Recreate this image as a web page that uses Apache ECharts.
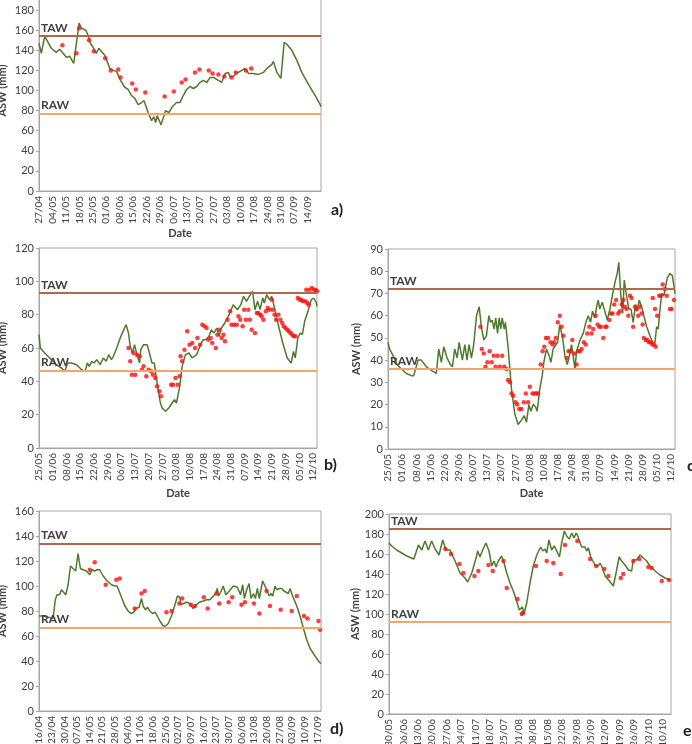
<!DOCTYPE html>
<html>
<head>
<meta charset="utf-8">
<script src="https://cdn.jsdelivr.net/npm/echarts@6/dist/echarts.min.js"></script>
<style>html,body{margin:0;background:#fff}#chart{width:692px;height:744px}</style>
</head>
<body>
<div id="chart"></div>
<script>
// x values are days since the first tick label of each panel

// ---- panel a) ----
var aTicks = ['27/04','04/05','11/05','18/05','25/05','01/06','08/06','15/06','22/06','29/06','06/07','13/07','20/07','27/07','03/08','10/08','17/08','24/08','31/08','07/09','14/09'];
var aLineDay = [0,1.2,3,3.8,6.4,9,10.8,14.3,16,18.1,20.9,22.1,24.4,25.6,26.8,28.2,29.9,31.2,32.9,34.3,36.9,38.7,40.4,42.5,44.8,46.5,48.2,50,51.7,53.5,54.7,56.9,58.7,59.9,60.8,61.6,63.6,64.8,66,67.7,69.6,71.7,73.5,75.2,77,78.7,80.4,82.2,83.9,85.7,87.4,89.2,90.9,93.5,95.2,97,98.7,99.6,101.3,103,105.7,107.4,109.2,111.8,114.4,117,118.8,121.4,122.2,124,126.1,127.1,127.8,129.2,131.8,134.4,137,138.7,141.4,144,146.3,147];
var aLineASW = [147,137,154,153,142,138,141,133,134,127,167,162,160,155,147,143,137,142,138,135,122,120,119,110,103,101,95,92,86,88,90,78,70,74,68,75,66,73,80,78,84,88,88,95,101,104,102,104,108,110,108,113,113,110,108,117,118,114,114,117,120,122,117,117,116,118,122,126,129,118,112,112,148,146,140,130,118,112,103,95,87,84];
var aObsDay = [12.2,19.5,20.9,26.1,28.6,34.5,37.4,41.3,42.5,48.6,50.5,55.4,65.5,70.3,74.4,76.4,81.3,83.6,88.5,90.5,93.5,96.6,100.3,102.6,107.8,110.6];
var aObsASW = [145,137,162,150,139,132,120,121,113,107,101,98,94,99,108,111,118,121,120,117,116,114,113,118,120,122];
var aTAW = 154, aRAW = 77;

// ---- panel b) ----
var bTicks = ['25/05','01/06','08/06','15/06','22/06','29/06','06/07','13/07','20/07','27/07','03/08','10/08','17/08','24/08','31/08','07/09','14/09','21/09','28/09','05/10','12/10'];
var bLineDay = [0,0.7,2.9,5.5,8.9,11.5,13.2,14.6,16.6,19.2,21.8,23.5,24.7,25.7,26.9,28.1,29.5,31.2,32.9,34.3,35.6,37,38,39.7,41.8,44.5,45.7,46.6,47.8,48.8,50,51.4,52,53.4,55.2,56.4,57.7,58.9,59.8,60.6,62,62.9,64.6,66.3,68,69.2,70.2,71.9,73.1,74,74.8,76.6,78.3,80.5,82.2,83.8,85.1,86.8,88,89.4,90.8,92,93.2,94.9,95.9,97.1,99.2,101.4,103.1,104.5,106,107.4,109.1,110.3,111.7,112.9,114.3,115.1,116.3,117.7,118.9,119.9,122,124.5,126.8,128.8,130,130.9,132.2,133.4,134.5,135.7,137.4,139.1,140.3,141.7,142];
var bLineASW = [68,60,57,54,50,48,46,51,51,50,47,46,51,49,52,51,53,50,54,52,56,53,55,60,67,74,69,61,57,62,56,51,59,62,62,57,51,51,43,37,27,24,22,24,27,29,27,37,49,50,56,57,54,56,61,65,65,67,71,69,72,67,72,75,74,80,86,83,86,91,88,91,94,83,88,83,90,87,92,89,91,86,75,63,54,51,58,54,66,69,68,76,82,89,90,87,85];
var bObsDay = [45.7,46.6,47.4,49.2,48.2,50,51.4,52.6,53.4,54.8,56,57.2,58.2,59.4,60.3,61.5,62.3,67.5,68.5,69.7,70.9,71.8,72.3,73.1,74.3,75.7,76.9,78.3,79.7,80.9,82.2,83.4,84.6,85.6,86.5,87.7,88.5,90.3,91.1,92.1,93.3,94.2,95,96.3,97.6,98.3,99.7,101,101.9,102.8,104,104.8,105.7,106.9,107.7,108.6,110.3,111.3,112,113,113.7,114.6,115.9,116.8,117.7,118.9,119.4,120.3,121.1,122.3,123.3,124.2,125,125.9,126.8,127.6,128.5,129.3,130.2,131,132.2,133.1,134,134.8,136,137,137.7,136.5,138.2,139.4,140.5,141.3,142];
var bObsASW = [60,52,44,44,57,56,55,47,49,43,47,46,44,42,37,34,31,38,38,42,38,43,55,52,59,70,62,63,60,66,62,74,73,72,65,66,63,60,68,71,66,68,64,77,82,74,74,74,79,77,73,83,77,83,77,71,69,81,81,80,79,77,82,84,83,89,83,80,77,80,77,75,73,72,71,70,69,68,67,67,90,89,89,88,88,87,86,95,95,96,95,95,94];
var bTAW = 93, bRAW = 46.5;

// ---- panel c) ----
var cTicks = bTicks;
var cLineDay = [0,0.8,2.5,4.5,6.6,9.1,11.6,12.7,14.9,16.5,19,22,23.9,25.1,26.4,27.6,29.2,30.9,31.9,33,34.2,35.2,36.8,38,39.1,40.1,41.3,42.4,43.8,45.1,46.2,47.4,48.7,49.9,50.7,51.5,52.5,53.3,54.2,55,55.8,56.5,57.5,58.1,59.4,61.1,62.7,64.4,66,67.4,68.5,69.7,70.7,71.8,73,73.8,75.1,76.3,77.1,78.4,79.7,80.6,81.7,82.6,83.9,85,86.4,87.5,88.7,90,90.8,91.6,92.5,93.3,95,96.6,97.9,99.1,100.2,101.2,102.4,103.2,104,104.8,106,107.3,108.5,109.8,111,112.3,113.4,114.2,115.2,116.1,116.9,118,119.2,120.2,121.3,122.5,123.3,124.3,125.5,126.6,128,129.6,130.9,132.1,132.9,133.7,134.6,135.4,136.5,137.4,138.2,139.5,140.7,141.2,142];
var cLineASW = [48,45,42,38,36,34,33,33,40,40,37,35,34,45,39,46,41,38,37,45,41,48,40,47,40,47,41,47,60,64,55,49,51,60,57,58,54,59,52,59,54,59,54,57,46,27,16,11,13,15,12,20,17,20,19,17,27,33,39,45,42,39,45,45,48,56,50,42,38,43,47,42,36,44,49,52,57,60,57,62,59,64,67,63,66,62,58,63,69,75,79,84,69,61,76,69,63,63,57,65,62,67,64,60,55,51,48,48,55,54,63,70,69,69,77,79,78,75,70];
var cObsDay = [45.7,46.4,47.4,48.2,49.2,50.3,51.3,52.3,53.2,54.2,55.3,56.5,57.5,58.6,59.4,60.3,61.1,61.9,63.1,63.9,64.9,66,67.2,68.2,69.3,70.2,71.5,72.5,73.5,74.3,75.6,76.5,77.3,78.1,79.2,80.4,81.4,82.2,83,84,85,85.9,86.7,88.4,89.3,90.3,91.2,92.1,93.3,94.1,95,95.8,96.9,97.8,98.6,99.6,100.7,101.5,102.7,103.7,104.5,105.3,106.5,107.5,108.1,109.5,110.3,111.1,111.9,112.9,113.9,114.7,115.6,116.4,117.2,118,118.9,119.7,120.5,121.3,122.2,123,123.8,124.6,125.5,126,126.6,127.5,128.3,129.1,129.9,130.8,131.6,132.4,131,132.1,133.2,134.2,135,135.9,137,137.9,139.5,140.3,141.5];
var cObsASW = [55,45,43,37,39,44,39,42,37,42,37,42,37,36,31,30,25,24,21,20,18,18,21,25,21,28,25,25,25,25,38,44,46,50,50,48,47,48,50,57,60,55,51,41,44,44,49,43,38,44,44,45,48,47,52,55,52,54,60,56,55,55,50,55,55,58,61,61,65,67,61,62,65,67,64,63,60,69,68,55,64,63,60,64,61,56,50,49,49,48,48,47,47,46,68,63,60,69,69,74,72,69,63,63,67];
var cTAW = 72, cRAW = 36;

// ---- panel d) ----
var dTicks = ['16/04','23/04','30/04','07/05','14/05','21/05','28/05','04/06','11/06','18/06','25/06','02/07','09/07','16/07','23/07','30/07','06/08','13/08','20/08','27/08','03/09','10/09','17/09'];
var dLineDay = [0,2.2,5,7.8,8.7,9,10,11.4,12.4,13.3,14.8,16.1,17.4,18.8,20.3,21.6,22.9,24.4,26.2,28.1,29.5,30.8,32.3,33.6,35.5,37.7,40.1,41.9,43.2,45.1,47.5,49.3,50.8,52.4,53.6,55.4,56.7,57.6,58.9,60,61.3,62.8,64.3,65.4,66.9,68.7,70,71.5,73.3,75.2,76.6,77.9,78.5,79.8,81.6,83.5,84.4,85.3,87.2,88.6,90.9,92.7,94.6,96.4,97.9,98.6,99.4,100.5,101.9,103.4,105.3,107.5,109.7,110.8,111.5,112.7,113.6,114.9,116.2,117.3,118.6,119.7,120.8,121.9,123.7,125,125.9,127.4,128.3,129.3,130.6,131.5,133,134.3,135.5,136.7,137.9,138.9,140.3,142.6,144.4,146.3,148.1,150,152.7,155.1,156];
var dLineASW = [76,76,75,74,74,89,93,93,97,97,93,101,116,114,112,126,114,113,112,109,113,112,113,113,108,104,101,100,100,93,84,80,78,79,82,83,90,84,81,83,80,78,79,78,72,68,68,70,76,85,92,91,85,86,87,86,87,82,85,87,88,89,89,92,94,98,92,95,100,93,96,100,99,100,93,101,90,97,102,90,94,90,98,90,104,100,101,92,94,92,100,97,98,98,96,95,94,98,92,84,76,66,57,50,44,39,38];
var dObsDay = [28.1,30.8,36.9,42.8,44.7,53,56.7,58.5,70.5,73.3,77.6,79.2,84,86.2,91.2,93.3,98.2,99.7,104.9,106.9,112,113.9,118.9,121.9,125.9,127.8,133.7,139.8,142.6,146.6,148.5,154.6,155.5];
var dObsASW = [113,119,101,105,106,82,94,96,79,80,86,90,85,84,91,82,94,86,87,91,85,87,86,78,96,84,81,80,92,76,74,72,65];
var dTAW = 134, dRAW = 67;

// ---- panel e) ----
var eTicks = ['30/05','06/06','13/06','20/06','27/06','04/07','11/07','18/07','25/07','01/08','08/08','15/08','22/08','29/08','05/09','12/09','19/09','26/09','03/10','10/10'];
var eLineDay = [0,1.3,3.7,6.2,8.6,12.1,14.3,15.9,17.5,19.1,20.7,22.4,24.3,26.1,27.7,29.6,32.1,34.5,36.9,38.2,40.2,42.3,43.1,44.2,45.5,47.1,48.6,49.9,51,52,53.1,54.7,55.9,57.2,58.8,60.4,62,63.3,64.1,64.8,65.6,66.9,68.5,70.1,71.8,73.7,74.7,75.8,76.6,77.7,79,80.3,81.5,82.8,83.9,85.2,86.3,87.6,88.8,89.9,90.9,91.7,92.5,93.6,94.4,95.2,96,96.9,98,99,100.1,100.9,101.7,102.5,103.3,105,107.1,109,110.6,111.8,113,114.7,116.3,117.9,118.7,120.3,122,123.6,125.2,126.8,129.3,131.7,134.1,136.5];
var eLineASW = [171,168,164,161,158,155,169,164,173,164,173,165,159,174,164,164,153,141,136,132,141,156,163,157,164,171,163,148,153,147,153,158,151,141,131,123,113,104,103,107,100,111,131,148,159,167,163,165,161,174,164,168,163,157,171,183,178,175,181,176,181,178,173,167,165,167,163,166,157,153,149,151,148,151,148,138,133,128,144,157,153,149,144,143,154,154,159,156,153,148,143,139,136,134];
var eObsDay = [27.4,30.1,34.2,36.1,41.5,43.4,48.3,50.4,55.6,57.2,62.4,64.5,65,71.4,76.6,79.8,83.4,85.5,91.5,97.7,100.6,104.6,106.6,112.6,113.8,118.7,121.6,126,127.6,132.5,136];
var eObsASW = [165,160,150,141,138,143,149,143,153,126,115,100,101,148,153,151,140,169,173,155,148,145,138,136,140,153,155,147,146,133,134];
var eTAW = 185, eRAW = 92;

var FONT = 'Lato';
var FRAME = '#a6a6a6';

function pairs(days, vals) {
  return days.map(function (d, i) { return [d, vals[i]]; });
}

// layout of the five panels (pixels)
var panels = [
  {tag:'a)', tx:331, ty:211, left:39, top:-10, width:282, height:201, xMax:147, yMax:200, yStep:20, yGap:31, date:true, dateGap:37,
   ticks:aTicks, line:pairs(aLineDay, aLineASW), obs:pairs(aObsDay, aObsASW), taw:aTAW, raw:aRAW},
  {tag:'b)', tx:324, ty:466, left:39, top:248, width:278, height:200, xMax:142, yMax:120, yStep:20, yGap:31, date:true, dateGap:40,
   ticks:bTicks, line:pairs(bLineDay, bLineASW), obs:pairs(bObsDay, bObsASW), taw:bTAW, raw:bRAW},
  {tag:'c)', tx:687, ty:467, left:388, top:249, width:287, height:200, xMax:142, yMax:90, yStep:10, yGap:26, date:true, dateGap:39,
   ticks:cTicks, line:pairs(cLineDay, cLineASW), obs:pairs(cObsDay, cObsASW), taw:cTAW, raw:cRAW},
  {tag:'d)', tx:330, ty:730, left:39, top:511, width:282, height:200, xMax:156, yMax:160, yStep:20, yGap:31, date:false,
   ticks:dTicks, line:pairs(dLineDay, dLineASW), obs:pairs(dObsDay, dObsASW), taw:dTAW, raw:dRAW},
  {tag:'e)', tx:683, ty:732, left:389, top:514, width:282, height:200, xMax:137, yMax:200, yStep:20, yGap:26, date:false,
   ticks:eTicks, line:pairs(eLineDay, eLineASW), obs:pairs(eObsDay, eObsASW), taw:eTAW, raw:eRAW}
];

var grids = [], xAxes = [], yAxes = [], series = [], texts = [];

panels.forEach(function (p, i) {
  grids.push({left:p.left, top:p.top, width:p.width, height:p.height, show:true,
    borderColor:FRAME, borderWidth:1, outerBoundsMode:'none', containLabel:false});
  xAxes.push({
    type:'value', gridIndex:i, min:0, max:p.xMax, interval:7,
    name: p.date ? 'Date' : '', nameLocation:'middle', nameGap:p.dateGap || 40,
    nameTextStyle:{fontFamily:FONT, fontWeight:'bold', fontSize:11, color:'#404040'},
    axisLine:{lineStyle:{color:FRAME}},
    axisTick:{show:false},
    splitLine:{show:false},
    axisLabel:{
      rotate:90, fontFamily:FONT, fontSize:10, color:'#404040', margin:5, showMaxLabel:false,
      formatter:(function (ticks) {
        return function (v) {
          var k = Math.round(v / 7);
          return Math.abs(v - k * 7) < 1e-6 && ticks[k] ? ticks[k] : '';
        };
      })(p.ticks)
    }
  });
  yAxes.push({
    type:'value', gridIndex:i, min:0, max:p.yMax, interval:p.yStep,
    name:'ASW (mm)', nameLocation:'middle', nameGap:p.yGap,
    nameTextStyle:{fontFamily:FONT, fontWeight:'bold', fontSize:11, color:'#404040'},
    axisLine:{show:true, lineStyle:{color:FRAME}},
    axisTick:{show:true, length:3, lineStyle:{color:FRAME}},
    splitLine:{show:false},
    axisLabel:{fontFamily:FONT, fontSize:11, color:'#404040', margin:5}
  });
  series.push({
    type:'line', xAxisIndex:i, yAxisIndex:i, data:p.line, showSymbol:false,
    lineStyle:{color:'#4f7a2c', width:1.5}, z:3,
    markLine:{
      silent:true, symbol:'none', animation:false,
      label:{show:true, position:'insideStartTop', formatter:'{b}', fontFamily:FONT, fontWeight:'bold', fontSize:12, color:'#404040', distance:[2, 2]},
      data:[
        {name:'TAW', yAxis:p.taw, lineStyle:{color:'#b06848', width:2, type:'solid'}},
        {name:'RAW', yAxis:p.raw, lineStyle:{color:'#f2a66a', width:2, type:'solid'}}
      ]
    }
  });
  series.push({
    type:'scatter', xAxisIndex:i, yAxisIndex:i, data:p.obs, symbolSize:4.5,
    itemStyle:{color:'#ff1010'}, z:4
  });
  texts.push({type:'text', left:p.tx, top:p.ty - 9,
    style:{text:p.tag, fontFamily:FONT, fontWeight:'bold', fontSize:16, fill:'#222'}});
});

var chart = echarts.init(document.getElementById('chart'), null, {renderer:'canvas'});
chart.setOption({
  animation:false,
  backgroundColor:'#fff',
  grid:grids,
  xAxis:xAxes,
  yAxis:yAxes,
  series:series,
  graphic:texts
});
</script>
</body>
</html>
